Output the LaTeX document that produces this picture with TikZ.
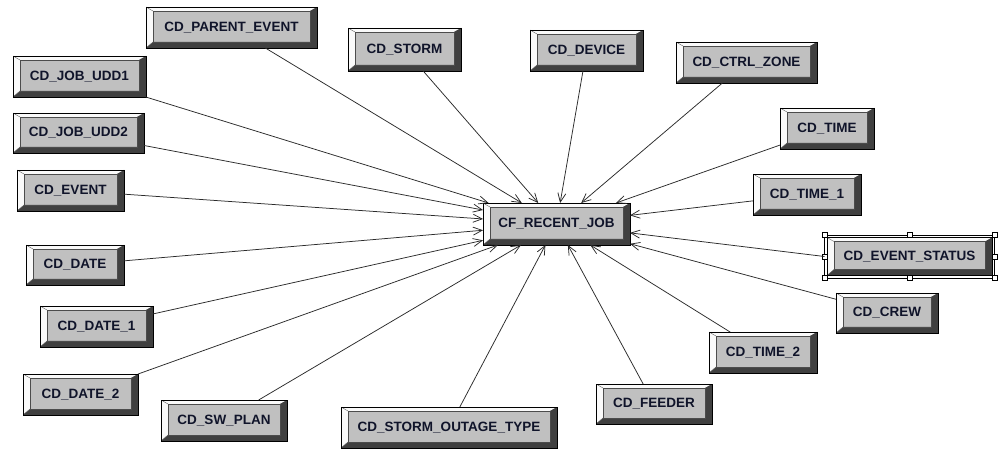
\documentclass[tikz,border=0pt]{standalone}
\usepackage{fontspec}
\setmainfont{Liberation Sans}
\usetikzlibrary{arrows.meta}
\definecolor{face}{HTML}{C0C0C0}
\definecolor{darkbev}{HTML}{404040}
\definecolor{lightbev}{HTML}{FAFAFA}
\definecolor{linec}{HTML}{2A2A2A}
\definecolor{txt}{HTML}{10142A}
\tikzset{
  btn/.style={draw=black, line width=0.6pt, fill=face, inner sep=0pt, outer sep=0pt,
    font=\bfseries\fontsize{13.5}{15}\selectfont, text=txt,
    path picture={
      \fill[lightbev] (path picture bounding box.south west) -- (path picture bounding box.north west)
        -- (path picture bounding box.north east)
        -- ([xshift=-7pt,yshift=-4pt]path picture bounding box.north east)
        -- ([xshift=7pt,yshift=-4pt]path picture bounding box.north west)
        -- ([xshift=7pt,yshift=6pt]path picture bounding box.south west) -- cycle;
      \fill[darkbev] (path picture bounding box.south west) -- (path picture bounding box.south east)
        -- (path picture bounding box.north east)
        -- ([xshift=-7pt,yshift=-4pt]path picture bounding box.north east)
        -- ([xshift=-7pt,yshift=6pt]path picture bounding box.south east)
        -- ([xshift=7pt,yshift=6pt]path picture bounding box.south west) -- cycle;
      \draw[black!70, line width=0.4pt] ([xshift=7pt,yshift=6pt]path picture bounding box.south west)
        rectangle ([xshift=-7pt,yshift=-4pt]path picture bounding box.north east);
      \draw[black!60, line width=0.4pt] (path picture bounding box.north west) -- ([xshift=7pt,yshift=-4pt]path picture bounding box.north west);
      \draw[black!60, line width=0.4pt] (path picture bounding box.south west) -- ([xshift=7pt,yshift=6pt]path picture bounding box.south west);
    }},
  link/.style={draw=linec, line width=0.75pt, -{Straight Barb[length=9pt,width=8pt]}},
  handle/.style={draw=black, fill=white, line width=0.4pt, minimum size=5pt, inner sep=0pt}
}
\begin{document}
\begin{tikzpicture}[x=1pt,y=-1pt]
\useasboundingbox[fill=white] (0,0) rectangle (1005,449);
\node[btn, minimum width=147pt, minimum height=42pt] (c) at (556.5,224) {CF\_RECENT\_JOB};
\node[btn, minimum width=171pt, minimum height=41pt] (pe) at (231.5,27.5) {CD\_PARENT\_EVENT};
\node[btn, minimum width=113pt, minimum height=43pt] (st) at (404.5,49.5) {CD\_STORM};
\node[btn, minimum width=113pt, minimum height=41pt] (dv) at (586.5,50.5) {CD\_DEVICE};
\node[btn, minimum width=141pt, minimum height=41pt] (cz) at (746.5,62.5) {CD\_CTRL\_ZONE};
\node[btn, minimum width=133pt, minimum height=41pt] (u1) at (79.5,76.5) {CD\_JOB\_UDD1};
\node[btn, minimum width=131pt, minimum height=40pt] (u2) at (78.5,133) {CD\_JOB\_UDD2};
\node[btn, minimum width=94pt, minimum height=41pt] (tm) at (827,128.5) {CD\_TIME};
\node[btn, minimum width=107pt, minimum height=41pt] (ev) at (70.5,190.5) {CD\_EVENT};
\node[btn, minimum width=108pt, minimum height=41pt] (t1) at (807,194.5) {CD\_TIME\_1};
\node[btn, minimum width=165pt, minimum height=38pt] (es) at (909.5,256.5) {CD\_EVENT\_STATUS};
\node[btn, minimum width=98pt, minimum height=40pt] (d0) at (75,265) {CD\_DATE};
\node[btn, minimum width=102pt, minimum height=40pt] (cr) at (887,313) {CD\_CREW};
\node[btn, minimum width=113pt, minimum height=41pt] (d1) at (96.5,326.5) {CD\_DATE\_1};
\node[btn, minimum width=108pt, minimum height=41pt] (t2) at (763,352.5) {CD\_TIME\_2};
\node[btn, minimum width=115pt, minimum height=41pt] (d2) at (80.5,394.5) {CD\_DATE\_2};
\node[btn, minimum width=116pt, minimum height=40pt] (fd) at (654,404) {CD\_FEEDER};
\node[btn, minimum width=126pt, minimum height=41pt] (sw) at (224,420.5) {CD\_SW\_PLAN};
\node[btn, minimum width=216pt, minimum height=41pt] (so) at (449,427.5) {CD\_STORM\_OUTAGE\_TYPE};
% selection frame
\draw[black, line width=0.4pt] ([xshift=-2.5pt,yshift=-2.5pt]es.south west) rectangle ([xshift=2.5pt,yshift=2.5pt]es.north east);
\foreach \a/\dx/\dy in {north west/-2.5/2.5, north/0/2.5, north east/2.5/2.5, east/2.5/0, south east/2.5/-2.5, south/0/-2.5, south west/-2.5/-2.5, west/-2.5/0}{
  \node[handle] at ([xshift=\dx pt,yshift=\dy pt]es.\a) {};
}
\foreach \s in {pe,st,dv,cz,u1,u2,tm,ev,t1,d0,cr,d1,t2,d2,fd,sw,so}{
  \draw[link] (\s) -- (c);
}
\draw[link] ([xshift=-2.5pt]es.west) -- (c);
\end{tikzpicture}
\end{document}
